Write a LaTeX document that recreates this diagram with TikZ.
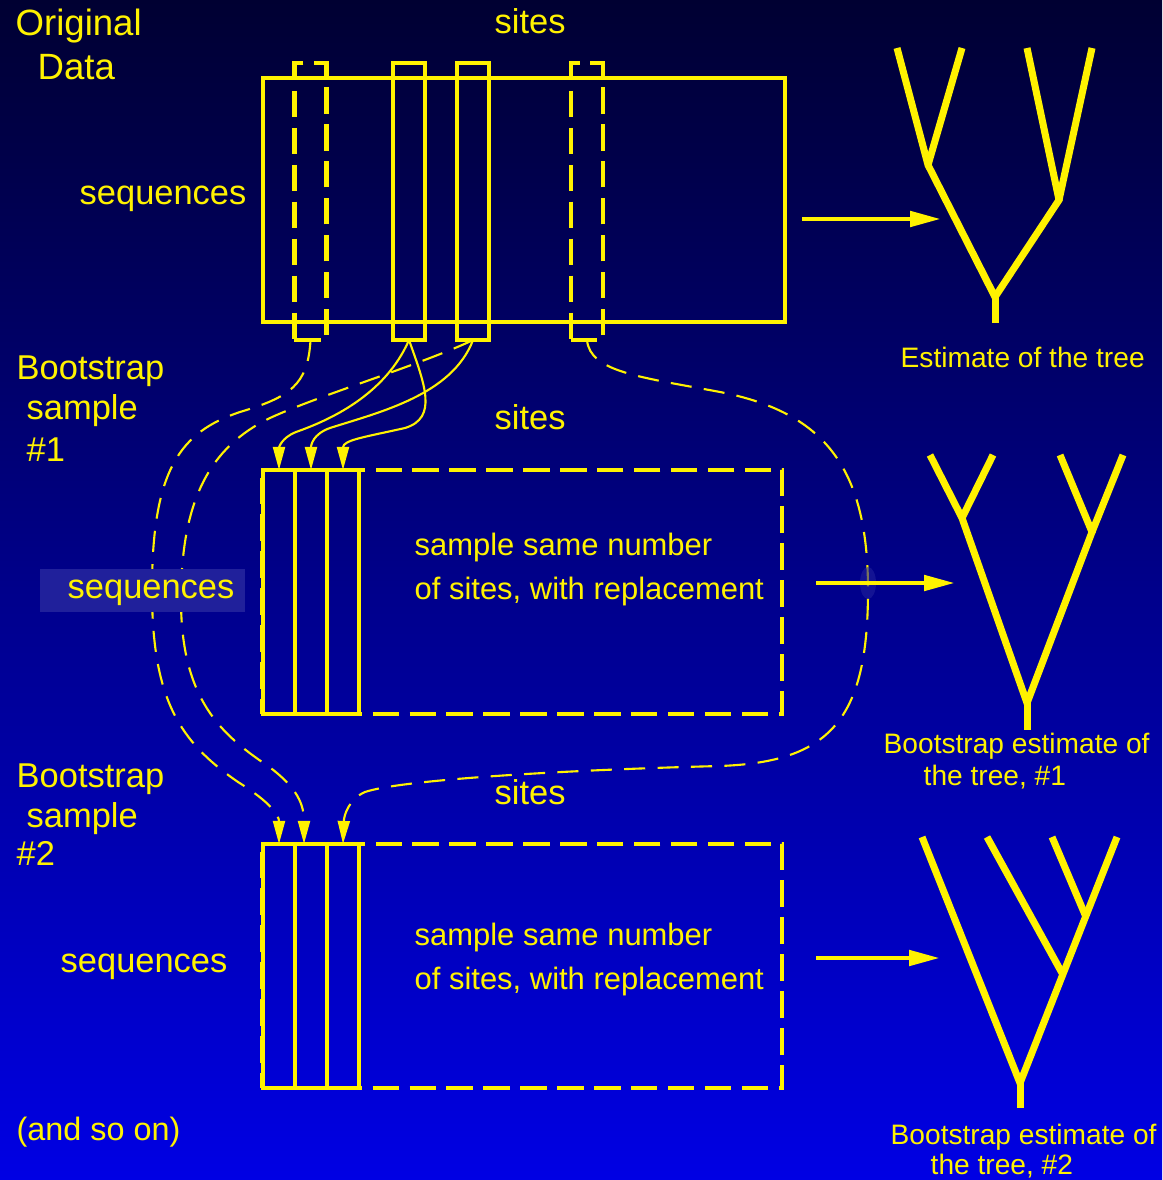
\documentclass[tikz,border=0pt]{standalone}
\usepackage{fontspec}
\setmainfont{Liberation Sans}
\usetikzlibrary{arrows.meta}
\definecolor{bgtop}{RGB}{0,0,50}
\definecolor{bgbot}{RGB}{0,0,228}
\definecolor{hilite}{RGB}{32,32,155}
\tikzset{
  lbl/.style={text=yellow, anchor=base west, inner sep=0pt, font=\fontsize{9.8}{12}\selectfont},
  head/.style={lbl, font=\fontsize{10.4}{12}\selectfont},
  note/.style={lbl, font=\fontsize{8.8}{11}\selectfont},
  est/.style={lbl, font=\fontsize{8}{10}\selectfont},
  box/.style={draw=yellow, line width=1.3pt, inner sep=0pt, outer sep=0pt, minimum width=5.2cm, minimum height=2.44cm},
  dbox/.style={box, dash pattern=on 7.5pt off 3pt},
  col/.style={box, minimum width=0.32cm},
  topcol/.style={col, minimum height=2.77cm},
  dtopcol/.style={topcol, dash pattern=on 7.5pt off 3pt},
  pick/.style={yellow, line width=0.6pt, -{Triangle[length=0.23cm,width=0.12cm]}},
  dpick/.style={pick, dash pattern=on 6pt off 3.5pt},
  big/.style={yellow, line width=1.4pt, -{Triangle[length=0.31cm,width=0.15cm]}},
  tree/.style={yellow, line width=2pt}
}
\begin{document}
\begin{tikzpicture}[x=0.01cm, y=-0.01cm, line join=miter]
	\useasboundingbox (0,0) rectangle (1162,1180);
	\shade[top color=bgtop, bottom color=bgbot] (0,0) rectangle (1162,1180);

	\node[head] (orig1) at (15,36) {Original};
	\node[head] (orig2) at (37,80) {Data};
	\node[lbl] (sites0) at (494,34) {sites};
	\node[lbl] (seq0) at (79,205) {sequences};
	\node[lbl] (bs1a) at (16,380) {Bootstrap};
	\node[lbl] (bs1b) at (26,420) {sample};
	\node[lbl] (bs1c) at (26,462) {\#1};
	\node[lbl] (sites1) at (494,430) {sites};
	\node[lbl] (bs2a) at (16,787) {Bootstrap};
	\node[lbl] (bs2b) at (26,827) {sample};
	\node[lbl] (bs2c) at (16,865) {\#2};
	\node[lbl] (sites2) at (494,804) {sites};
	\node[lbl] (seq2) at (60,972) {sequences};
	\node[lbl, font=\fontsize{9.2}{11}\selectfont] (more) at (16,1140) {(and so on)};
	\node[note] (rule1a) at (414,555) {sample same number};
	\node[note] (rule1b) at (414,599) {of sites, with replacement};
	\node[note] (rule2a) at (414,945) {sample same number};
	\node[note] (rule2b) at (414,989) {of sites, with replacement};
	\node[est] (est0) at (900,368) {Estimate of the tree};
	\node[est] (est1a) at (883,753) {Bootstrap estimate of};
	\node[est] (est1b) at (923,785) {the tree, \#1};
	\node[est] (est2a) at (890,1144) {Bootstrap estimate of};
	\node[est] (est2b) at (930,1174) {the tree, \#2};

	\node[box, minimum width=5.22cm] (data) at (524,200) {};
	\node[dtopcol] (c1) at (310.5,201.5) {};
	\node[topcol] (c2) at (409,201.5) {};
	\node[topcol] (c3) at (473,201.5) {};
	\node[dtopcol] (c4) at (587,201.5) {};

	\node[dbox] (boot1) at (522,592) {};
	\node[col] (s1) at (279,592) {};
	\node[col] (s2) at (311,592) {};
	\node[col] (s3) at (343,592) {};

	\node[dbox] (boot2) at (522,966) {};
	\node[col] (t1) at (279,966) {};
	\node[col] (t2) at (311,966) {};
	\node[col] (t3) at (343,966) {};

	\draw[pick] (c2.south) .. controls (385,395) and (330,420) .. (296,432) .. controls (281,438) and (279,448) .. (s1.north);
	\draw[pick] (c2.south) .. controls (425,385) and (438,418) .. (405,428) .. controls (365,437) and (343,440) .. (s3.north);
	\draw[pick] (c3.south) .. controls (452,395) and (380,412) .. (330,428) .. controls (313,434) and (311,445) .. (s2.north);
	\draw[dpick] (c1.south) .. controls (308,385) and (290,397) .. (240,412) .. controls (180,432) and (152,470) .. (152,590) .. controls (152,700) and (180,742) .. (238,782) .. controls (270,802) and (279,815) .. (t1.north);
	\draw[dpick] (c3.south) .. controls (420,365) and (320,395) .. (270,418) .. controls (210,447) and (181,500) .. (181,600) .. controls (181,700) and (222,735) .. (268,766) .. controls (298,788) and (304,805) .. ([xshift=-0.07cm]t2.north);
	\draw[dpick] (c4.south) .. controls (590,372) and (640,377) .. (720,392) .. controls (822,412) and (868,465) .. (868,590) .. controls (868,720) and (830,762) .. (720,766) .. controls (560,770) and (400,780) .. (365,792) .. controls (349,799) and (344,815) .. (t3.north);
	\fill[hilite, opacity=0.6] (868,583) ellipse [x radius=0.08cm, y radius=0.16cm];
	\fill[hilite] (40,569) rectangle (245,612);
	\node[lbl] (seq1) at (67,598) {sequences};

	\coordinate (from0) at (802,219);
	\coordinate (to0) at (941,219);
	\coordinate (from1) at (816,583);
	\coordinate (to1) at (955,583);
	\coordinate (from2) at (816,958);
	\coordinate (to2) at (940,958);
	\draw[big] (from0) -- (to0);
	\draw[big] (from1) -- (to1);
	\draw[big] (from2) -- (to2);

	\draw[tree] (897,48) -- (928,165) -- (995,297) -- (1059,200) -- (1027,48);
	\draw[tree] (962,48) -- (928,165);
	\draw[tree] (1092,48) -- (1059,200);
	\draw[tree] (995,297) -- (995,323);

	\draw[tree] (930,455) -- (962,518) -- (1027,703) -- (1092,532) -- (1060,455);
	\draw[tree] (993,455) -- (962,518);
	\draw[tree] (1123,455) -- (1092,532);
	\draw[tree] (1027,703) -- (1027,730);

	\draw[tree] (922,837) -- (1020,1083) -- (1117,837);
	\draw[tree] (987,837) -- (1062,973);
	\draw[tree] (1052,837) -- (1086,917);
	\draw[tree] (1020,1083) -- (1020,1108);
\end{tikzpicture}
\end{document}
